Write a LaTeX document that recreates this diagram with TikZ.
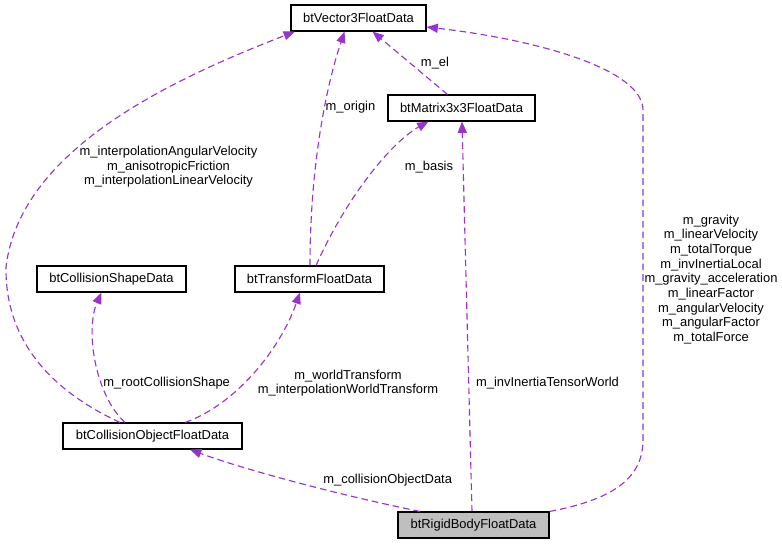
\documentclass[tikz,border=0pt]{standalone}
\usepackage{fontspec}
\setmainfont{Liberation Sans}
\usetikzlibrary{arrows.meta,calc}
\definecolor{edgecol}{HTML}{9A32CD}
\definecolor{rootfill}{HTML}{BFBFBF}
\begin{document}
\begin{tikzpicture}[x=0.75pt,y=-0.75pt,
  every node/.style={font=\fontsize{9.7pt}{11pt}\selectfont},
  cls/.style={draw=black,line width=0.8pt,fill=white,inner sep=0pt,minimum height=19.5pt},
  lbl/.style={align=center,inner sep=0pt},
  edge/.style={draw=edgecol,line width=0.85pt,dash pattern=on 5pt off 3pt,
    -{Triangle[length=8.5pt,width=6.8pt,fill=edgecol]}}]
\useasboundingbox (0,0) rectangle (782,544);
% classes
\node[cls,minimum width=101.25pt] (V) at (358.5,18) {btVector3FloatData};
\node[cls,minimum width=110.25pt] (M) at (461.5,108) {btMatrix3x3FloatData};
\node[cls,minimum width=111.75pt] (S) at (111.5,279) {btCollisionShapeData};
\node[cls,minimum width=111.75pt] (T) at (309.5,279) {btTransformFloatData};
\node[cls,minimum width=134.25pt] (C) at (152.5,436) {btCollisionObjectFloatData};
\node[cls,minimum width=113.25pt,fill=rootfill] (R) at (473.5,525) {btRigidBodyFloatData};
% edges
\draw[edge] ($(C.north)+(-32.5,0)$) .. controls (50,390) and (5,340) .. (6,267)
  .. controls (20,150) and (170,80) .. ($(V.south)+(-63.5,0)$);
\draw[edge] ($(T.north)+(0.5,0)$) .. controls (310,170) and (325,90) .. ($(V.south)+(-14,0)$);
\draw[edge] ($(T.north)+(6.5,0)$) .. controls (350,190) and (395,140) .. ($(M.south)+(-33,0)$);
\draw[edge] ($(M.north)+(-14,0)$) -- ($(V.south)+(14,0)$);
\draw[edge] (R.north east) .. controls (610,500) and (643,480) .. (643,440) -- (643,110)
  .. controls (643,70) and (540,40) .. ($(V.east)+(0,9)$);
\draw[edge] ($(R.north)+(-1.5,0)$) -- ($(M.south)+(0.5,0)$);
\draw[edge] ($(C.north)+(-27.5,0)$) .. controls (95,395) and (85,330) .. ($(S.south)+(-10,0)$);
\draw[edge] ($(C.north)+(32.5,0)$) .. controls (235,405) and (280,350) .. ($(T.south)+(-9.5,0)$);
\draw[edge] ($(R.north)+(-53.5,0)$) .. controls (330,493) and (240,468) .. ($(C.south)+(37.5,0)$);
% labels
\node[lbl] (l1) at (168.5,166.7) {m\_interpolationAngularVelocity\\m\_anisotropicFriction\\m\_interpolationLinearVelocity};
\node[lbl] (l2) at (350.5,106.7) {m\_origin};
\node[lbl] (l3) at (429,166.7) {m\_basis};
\node[lbl] (l4) at (435,62.7) {m\_el};
\node[lbl] (l5) at (711,279.5) {m\_gravity\\m\_linearVelocity\\m\_totalTorque\\m\_invInertiaLocal\\m\_gravity\_acceleration\\m\_linearFactor\\m\_angularVelocity\\m\_angularFactor\\m\_totalForce};
\node[lbl] (l6) at (547.5,383) {m\_invInertiaTensorWorld};
\node[lbl] (l7) at (166.7,383) {m\_rootCollisionShape};
\node[lbl] (l8) at (348,383.3) {m\_worldTransform\\m\_interpolationWorldTransform};
\node[lbl] (l9) at (387.7,480) {m\_collisionObjectData};
\end{tikzpicture}
\end{document}
